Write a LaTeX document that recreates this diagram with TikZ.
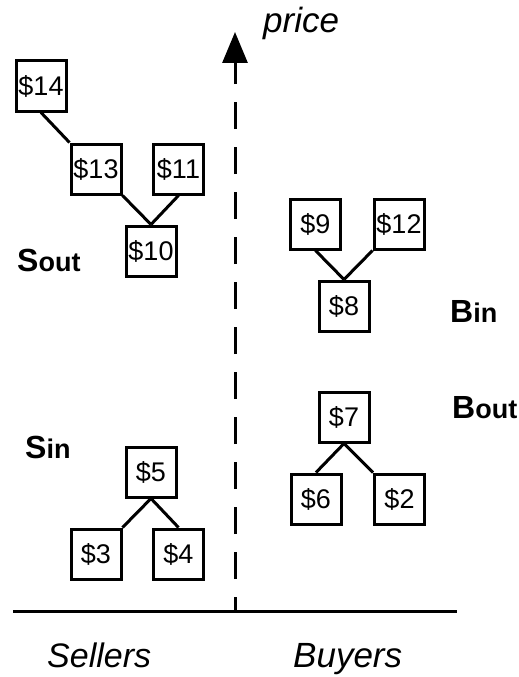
\documentclass[tikz,border=0pt]{standalone}
\usepackage{fontspec}
\setmainfont{Liberation Sans}
\usetikzlibrary{arrows.meta}
\begin{document}
\begin{tikzpicture}[x=1pt,y=-1pt,
  pricebox/.style={draw,line width=3pt,minimum size=50pt,inner sep=0pt,
    font=\fontsize{27}{30}\selectfont},
  link/.style={line width=3pt},
  axistext/.style={anchor=base west,inner sep=0pt,
    font=\itshape\fontsize{35}{40}\selectfont},
  settext/.style={anchor=base west,inner sep=0pt,
    font=\bfseries\fontsize{32}{38}\selectfont}]
\useasboundingbox (0,0) rectangle (519,677);

% price axis and ground line
\coordinate (axbot) at (235,611);
\coordinate (axtop) at (235,32);
\coordinate (gl) at (13,611);
\coordinate (gr) at (457,611);
\draw[line width=3pt] (gl) -- (gr);
\draw[line width=3pt,dash pattern=on 27pt off 18pt,dash phase=13pt,
  -{Triangle[width=25pt,length=31pt]}] (axbot) -- (axtop);

% axis texts
\node[axistext] (tprice) at (263,33) {price};
\node[axistext,font=\itshape\fontsize{34}{40}\selectfont] (tsell) at (47,667) {Sellers};
\node[axistext] (tbuy) at (293,667) {Buyers};

% set labels
\node[settext] (lsout) at (17,271) {S\fontsize{27}{32}\selectfont out};
\node[settext] (lsin) at (25,458) {S\fontsize{27}{32}\selectfont in};
\node[settext] (lbin) at (450,322) {B\fontsize{27}{32}\selectfont in};
\node[settext] (lbout) at (452,418) {B\fontsize{27}{32}\selectfont out};

% sellers out
\node[pricebox] (n14) at (41,86) {\$14};
\node[pricebox] (n13) at (96,169) {\$13};
\node[pricebox] (n11) at (178.5,169) {\$11};
\node[pricebox] (n10) at (151,251) {\$10};
\draw[link] (n14.south) -- (n13.north west);
\draw[link] (n13.south east) -- (n10.north);
\draw[link] (n11.south) -- (n10.north);

% buyers in
\node[pricebox] (n9) at (315.5,224) {\$9};
\node[pricebox] (n12) at (399,224) {\$12};
\node[pricebox] (n8) at (344,306) {\$8};
\draw[link] (n9.south) -- (n8.north);
\draw[link] (n12.south west) -- (n8.north);

% buyers out
\node[pricebox] (n7) at (344,417) {\$7};
\node[pricebox] (n6) at (316,499) {\$6};
\node[pricebox] (n2) at (399.5,499) {\$2};
\draw[link] (n7.south) -- (n6.north);
\draw[link] (n7.south) -- (n2.north west);

% sellers in
\node[pricebox] (n5) at (151,472) {\$5};
\node[pricebox] (n3) at (96,554) {\$3};
\node[pricebox] (n4) at (178.5,554) {\$4};
\draw[link] (n5.south) -- (n3.north east);
\draw[link] (n5.south) -- (n4.north);
\end{tikzpicture}
\end{document}
